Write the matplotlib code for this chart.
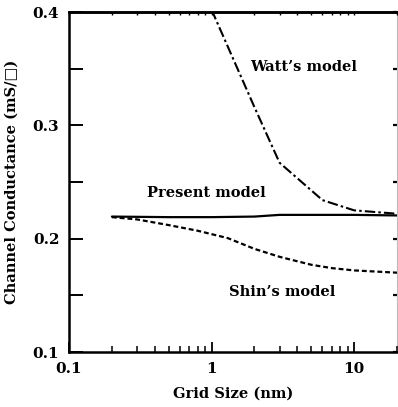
import matplotlib
matplotlib.use("Agg")
import matplotlib.pyplot as plt
from matplotlib.ticker import LogLocator, FixedLocator, NullFormatter, FixedFormatter

# Data
present_x = [0.2, 0.5, 1.0, 2.0, 3.0, 5.0, 10.0, 20.0]
present_y = [0.2195, 0.219, 0.219, 0.2195, 0.221, 0.221, 0.221, 0.2205]

watt_x = [1.0, 2.0, 3.0, 6.0, 10.0, 20.0]
watt_y = [0.402, 0.316, 0.267, 0.234, 0.225, 0.222]

shin_x = [0.2, 0.3, 0.5, 0.8, 1.3, 2.0, 3.0, 5.0, 7.0, 10.0, 20.0]
shin_y = [0.219, 0.217, 0.212, 0.207, 0.2005, 0.191, 0.184, 0.177, 0.174, 0.172, 0.170]

x_ticks = [0.1, 1, 10]
x_tick_labels = ["0.1", "1", "10"]
y_ticks = [0.1, 0.2, 0.3, 0.4]
y_tick_labels = ["0.1", "0.2", "0.3", "0.4"]
y_minor = [0.15, 0.25, 0.35]

labels = {"watt": "Watt\u2019s model", "present": "Present model", "shin": "Shin\u2019s model"}

plt.rcParams["font.family"] = "DejaVu Serif"

fig = plt.figure(figsize=(3.98, 4.07), dpi=100)
ax = fig.add_axes([0.1734, 0.1351, 0.8241, 0.8354])

ax.plot(present_x, present_y, color="black", lw=1.6, solid_capstyle="round")
ax.plot(watt_x, watt_y, color="black", lw=1.5, linestyle=(0, (5, 1.5, 1.2, 1.5)))
ax.plot(shin_x, shin_y, color="black", lw=1.6, linestyle=(0, (2.2, 1.3)))

ax.set_xscale("log")
ax.set_xlim(0.1, 20)
ax.set_ylim(0.1, 0.4)

ax.xaxis.set_major_locator(FixedLocator(x_ticks))
ax.xaxis.set_major_formatter(FixedFormatter(x_tick_labels))
ax.xaxis.set_minor_locator(LogLocator(base=10, subs=range(2, 10)))
ax.xaxis.set_minor_formatter(NullFormatter())
ax.yaxis.set_major_locator(FixedLocator(y_ticks))
ax.yaxis.set_major_formatter(FixedFormatter(y_tick_labels))
ax.yaxis.set_minor_locator(FixedLocator(y_minor))

ax.tick_params(axis="x", which="major", direction="in", length=7, width=1.3,
               labelsize=11, pad=7)
ax.tick_params(axis="x", which="minor", direction="in", length=4, width=1.1)
ax.tick_params(axis="y", which="both", direction="in", length=10, width=1.4,
               labelsize=11, pad=7)
for lab in ax.get_xticklabels() + ax.get_yticklabels():
    lab.set_fontweight("bold")

# short ticks on the right side
sec_y = ax.secondary_yaxis("right")
sec_y.yaxis.set_major_locator(FixedLocator(y_ticks + y_minor))
sec_y.yaxis.set_major_formatter(NullFormatter())
sec_y.tick_params(direction="in", length=3, width=1.6)
sec_y.spines["right"].set_linewidth(0.8)
sec_y.spines["right"].set_color("#bbbbbb")

# tiny ticks along the top
sec_x = ax.secondary_xaxis("top")
sec_x.xaxis.set_major_locator(LogLocator(base=10, subs=range(1, 10)))
sec_x.xaxis.set_major_formatter(NullFormatter())
sec_x.xaxis.set_minor_locator(FixedLocator([]))
sec_x.tick_params(direction="in", length=2, width=1.0)
sec_x.spines["top"].set_linewidth(1.8)

for s in ["left", "bottom", "top"]:
    ax.spines[s].set_linewidth(1.8)
ax.spines["right"].set_visible(False)

ax.set_xlabel("Grid Size (nm)", fontsize=10.5, fontweight="bold", labelpad=8)
ax.set_ylabel("Channel Conductance (mS/\u25a1)", fontsize=10.5, fontweight="bold", labelpad=10)

ax.text(4.46, 0.3515, labels["watt"], ha="center", va="center", fontsize=10.5, fontweight="bold")
ax.text(0.915, 0.240, labels["present"], ha="center", va="center", fontsize=10.5, fontweight="bold")
ax.text(3.12, 0.153, labels["shin"], ha="center", va="center", fontsize=10.5, fontweight="bold")

fig.savefig("out.png", dpi=100)
